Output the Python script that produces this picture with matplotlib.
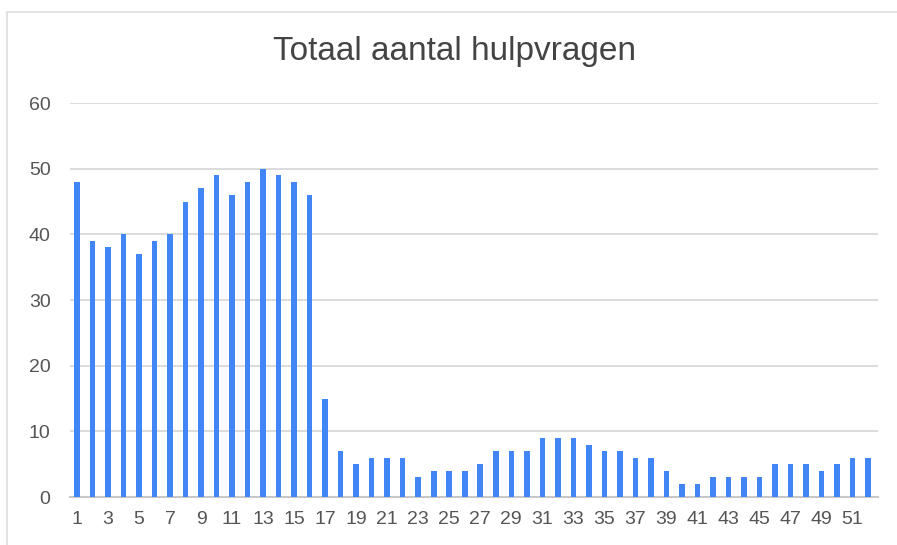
import matplotlib
matplotlib.use("Agg")
import matplotlib.pyplot as plt
from matplotlib.patches import Rectangle

weeks = list(range(1, 53))
values = [48, 39, 38, 40, 37, 39, 40, 45, 47, 49, 46, 48, 50, 49, 48, 46,
          15, 7, 5, 6, 6, 6, 3, 4, 4, 4, 5, 7, 7, 7, 9, 9, 9, 8, 7, 7,
          6, 6, 4, 2, 2, 3, 3, 3, 3, 5, 5, 5, 4, 5, 6, 6]
xtick_labels = [str(w) for w in weeks if w % 2 == 1]
yticks = [0, 10, 20, 30, 40, 50, 60]
title = "Totaal aantal hulpvragen"

plt.rcParams['font.family'] = ['Liberation Sans', 'DejaVu Sans']

fig = plt.figure(figsize=(8.97, 5.45), dpi=100)
fig.patches.append(Rectangle((7/897, -0.01), 1.0, 1 - 12/545 + 0.01,
                             transform=fig.transFigure, fill=False,
                             edgecolor='#dddddd', linewidth=1.2))
ax = fig.add_axes([0.078, 0.088, 0.901, 0.723])
ax.bar(weeks, values, width=0.36, color='#4285F4', zorder=3)
ax.set_xlim(0.55, 52.65)
ax.set_ylim(0, 60)
ax.set_yticks(yticks)
ax.set_xticks([w for w in weeks if w % 2 == 1])
ax.set_xticklabels(xtick_labels)
ax.grid(axis='y', color='#d6d6d6', linewidth=1.2, zorder=0)
for s in ['top', 'right', 'left']:
    ax.spines[s].set_visible(False)
ax.spines['bottom'].set_color('#c8c8c8')
ax.spines['bottom'].set_linewidth(1.5)
ax.tick_params(axis='both', length=0, labelsize=14, colors='#555555')
ax.tick_params(axis='y', pad=14)
ax.tick_params(axis='x', pad=10)
fig.text(0.507, 0.905, title, ha='center', va='center', fontsize=24, color='#444444')
fig.savefig('out.png', dpi=100)
